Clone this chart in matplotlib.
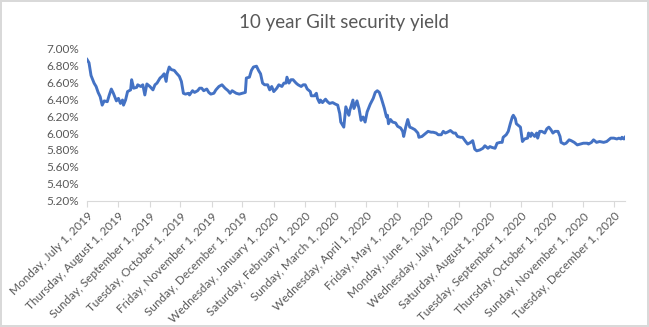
import numpy as np
import pandas as pd
import matplotlib
matplotlib.use("Agg")
import matplotlib.pyplot as plt
import matplotlib.dates as mdates
from matplotlib.ticker import FuncFormatter

plt.rcParams['font.family'] = ['Lato', 'DejaVu Sans']

# days after 1 July 2019, and yield in percent
days = [0, 2, 4, 7, 9, 11, 13, 15, 17, 20, 22, 24, 26, 29, 31, 33, 35, 36, 38, 40,
        43, 44, 46, 49, 50, 53, 55, 57, 59, 62, 65, 67, 69, 72, 74, 76, 78, 79, 81, 83,
        86, 88, 91, 93, 95, 97, 100, 101, 104, 106, 109, 111, 113, 115, 118, 120, 122, 125, 127, 130,
        133, 136, 139, 141, 143, 147, 150, 153, 156, 157, 160, 162, 164, 167, 169, 171, 173, 175, 178, 180,
        182, 184, 187, 189, 192, 194, 196, 197, 199, 201, 203, 206, 208, 211, 213, 215, 217, 220, 221, 224,
        226, 227, 229, 230, 232, 235, 237, 239, 242, 245, 247, 249, 250, 253, 255, 258, 259, 262, 263, 266,
        268, 270, 272, 274, 276, 279, 282, 284, 286, 288, 290, 293, 295, 296, 297, 299, 301, 304, 306, 309,
        311, 312, 314, 316, 318, 320, 323, 326, 327, 330, 332, 334, 336, 339, 341, 344, 346, 349, 351, 353,
        355, 358, 361, 363, 365, 368, 370, 373, 375, 378, 380, 382, 384, 387, 390, 392, 395, 397, 399, 402,
        404, 407, 409, 410, 413, 415, 417, 419, 420, 422, 423, 425, 427, 429, 431, 434, 435, 437, 438, 441,
        443, 444, 446, 448, 451, 453, 455, 457, 459, 461, 464, 466, 467, 470, 472, 475, 477, 480, 483, 486,
        489, 493, 494, 497, 499, 502, 505, 509, 512, 514, 516, 519, 522, 524, 526, 527, 529, 530]
yields = [6.87, 6.83, 6.68, 6.59, 6.55, 6.48, 6.43, 6.33, 6.38, 6.37, 6.45, 6.52, 6.47, 6.38, 6.41, 6.35, 6.39, 6.33, 6.39, 6.49,
          6.51, 6.63, 6.53, 6.54, 6.57, 6.55, 6.57, 6.45, 6.58, 6.55, 6.51, 6.57, 6.59, 6.65, 6.67, 6.70, 6.61, 6.70, 6.78, 6.75,
          6.74, 6.71, 6.67, 6.61, 6.47, 6.46, 6.47, 6.45, 6.50, 6.48, 6.50, 6.53, 6.53, 6.50, 6.52, 6.48, 6.46, 6.47, 6.51, 6.55,
          6.57, 6.53, 6.50, 6.47, 6.50, 6.47, 6.46, 6.47, 6.48, 6.65, 6.66, 6.74, 6.78, 6.79, 6.74, 6.70, 6.59, 6.57, 6.57, 6.51,
          6.55, 6.49, 6.53, 6.57, 6.55, 6.59, 6.59, 6.66, 6.59, 6.63, 6.63, 6.59, 6.57, 6.55, 6.57, 6.57, 6.52, 6.49, 6.44, 6.44,
          6.47, 6.41, 6.36, 6.39, 6.36, 6.40, 6.37, 6.35, 6.36, 6.34, 6.33, 6.23, 6.13, 6.07, 6.31, 6.21, 6.27, 6.39, 6.29, 6.38,
          6.29, 6.15, 6.19, 6.13, 6.25, 6.34, 6.41, 6.48, 6.50, 6.48, 6.41, 6.29, 6.19, 6.21, 6.11, 6.16, 6.13, 6.12, 6.08, 6.06,
          6.02, 5.96, 6.07, 6.16, 6.07, 6.06, 6.04, 6.00, 5.95, 5.96, 5.98, 6.00, 6.02, 6.01, 6.01, 6.00, 5.98, 5.98, 6.02, 6.00,
          6.01, 6.03, 6.00, 6.00, 5.96, 5.95, 5.95, 5.90, 5.87, 5.89, 5.91, 5.81, 5.79, 5.80, 5.82, 5.85, 5.82, 5.84, 5.83, 5.82,
          5.88, 5.89, 5.89, 5.95, 5.98, 6.02, 6.11, 6.19, 6.21, 6.17, 6.11, 6.09, 6.07, 5.90, 5.93, 5.94, 6.00, 5.96, 6.00, 5.96,
          6.00, 5.94, 6.02, 6.02, 6.00, 6.05, 6.07, 6.04, 6.00, 6.02, 6.02, 5.96, 5.89, 5.87, 5.88, 5.92, 5.91, 5.89, 5.86, 5.87,
          5.88, 5.88, 5.87, 5.89, 5.92, 5.89, 5.90, 5.89, 5.90, 5.92, 5.94, 5.94, 5.93, 5.94, 5.93, 5.95, 5.93, 5.95]

start = pd.Timestamp("2019-07-01")
dates = start + pd.to_timedelta(days, unit="D")
tick_dates = pd.date_range("2019-07-01", "2020-12-01", freq="MS")
title = "10 year Gilt security yield"

fig = plt.figure(figsize=(6.49, 3.27), dpi=100)
fig.patch.set_edgecolor("#D9D9D9")
fig.patch.set_linewidth(1.5)
ax = fig.add_axes([0.134, 0.386, 0.829, 0.466])

ax.plot(dates, np.array(yields) / 100, color="#4472C4", lw=2.1, solid_joinstyle="round")

ax.set_ylim(0.052, 0.070)
ax.set_yticks(np.arange(0.052, 0.0701, 0.002))
ax.yaxis.set_major_formatter(FuncFormatter(lambda v, p: f"{v*100:.2f}%"))
ax.set_xlim(dates[0], dates[-1])
ax.set_xticks(tick_dates)
ax.set_xticklabels([d.strftime("%A, %B ") + str(d.day) + d.strftime(", %Y") for d in tick_dates],
                   rotation=45, ha="right", rotation_mode="anchor")

for s in ["top", "right", "left"]:
    ax.spines[s].set_visible(False)
ax.spines["bottom"].set_color("#D9D9D9")
ax.tick_params(axis="y", length=0, labelsize=8.5, labelcolor="#595959", pad=6)
ax.tick_params(axis="x", length=4, color="#D9D9D9", labelsize=8.5, labelcolor="#595959", pad=3)

fig.text(0.53, 0.93, title, ha="center", va="center", fontsize=13.5, color="#595959")

fig.savefig("out.png", dpi=100, edgecolor=fig.get_edgecolor())
